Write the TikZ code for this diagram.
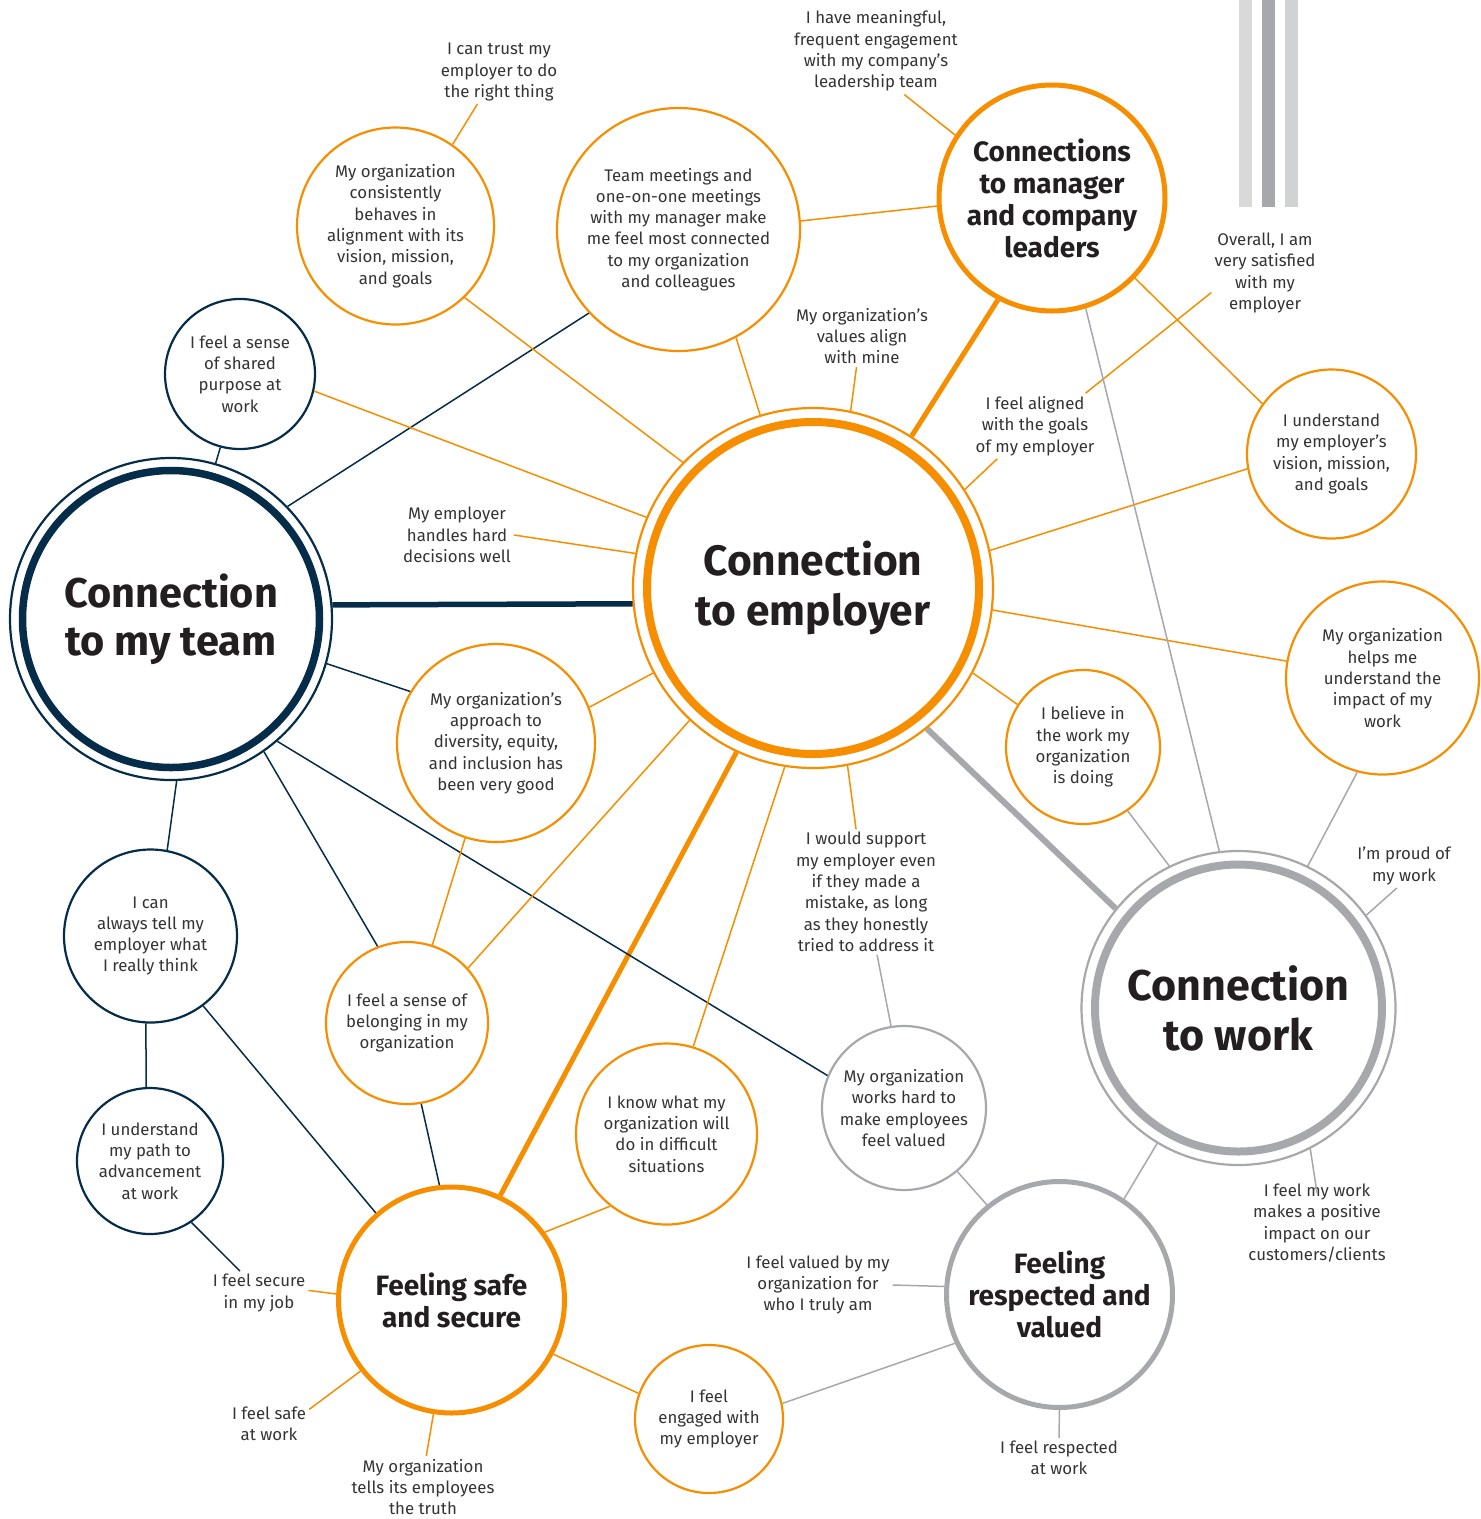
\documentclass[tikz,border=0pt]{standalone}
\usepackage{fontspec}
\setmainfont{Fira Sans}
\definecolor{org}{RGB}{247,142,0}
\definecolor{navy}{RGB}{5,44,73}
\definecolor{gry}{RGB}{167,168,172}
\definecolor{gryl}{RGB}{217,217,218}
\definecolor{gryd}{RGB}{167,168,172}
\definecolor{gryc}{RGB}{209,210,212}
\definecolor{txt}{RGB}{52,52,52}
\definecolor{ttl}{RGB}{35,31,32}
\begin{document}
\begin{tikzpicture}[x=1pt,y=-1pt,
  txtfont/.style={font=\fontsize{16.8}{21.3}\selectfont, text=txt, align=center},
  bub/.style={circle, line width=2.2pt, txtfont, inner sep=0pt, minimum size=#1},
  ob/.style={bub=#1, draw=org},
  nb/.style={bub=#1, draw=navy},
  gb/.style={bub=#1, draw=gry},
  lab/.style={txtfont, inner sep=3pt},
  hub/.style={circle, inner sep=0pt, line width=5pt, minimum size=226pt, font=\bfseries\fontsize{28}{32}\selectfont, text=ttl, align=center},
  ol/.style={draw=org, line width=1.5pt},
  nl/.style={draw=navy, line width=1.5pt},
  gl/.style={draw=gry, line width=1.5pt},
]
\useasboundingbox (0,0) rectangle (1481,1519);
\fill[white] (0,0) rectangle (1481,1519);

% stripes
\fill[gryl] (1239,0) rectangle (1252,207);
\fill[gryd] (1262,0) rectangle (1275,207);
\fill[gryc] (1285,0) rectangle (1298,207);

% main hubs
\node[circle, draw=org, line width=2.2pt, minimum size=360pt, inner sep=0pt,
  font=\bfseries\fontsize{42.5}{50}\selectfont, text=ttl, align=center] (emp) at (813,588) {Connection\\to employer};
\draw[org, line width=8pt] (emp.center) circle[radius=166pt];

\node[circle, draw=navy, line width=2.2pt, minimum size=322pt, inner sep=0pt,
  font=\bfseries\fontsize{41.5}{48}\selectfont, text=ttl, align=center] (team) at (171,619) {Connection\\to my team};
\draw[navy, line width=7.5pt] (team.center) circle[radius=148.5pt];

\node[circle, draw=gry, line width=2.2pt, minimum size=314pt, inner sep=0pt,
  font=\bfseries\fontsize{43}{50}\selectfont, text=ttl, align=center] (work) at (1238.5,1008) {Connection\\to work};
\draw[gry, line width=8pt] (work.center) circle[radius=143.5pt];

\node[hub, draw=org] (mgr) at (1052,198) {Connections\\to manager\\and company\\leaders};
\node[hub, draw=org] (safe) at (451.5,1300) {Feeling safe\\and secure};
\node[hub, draw=gry] (resp) at (1059.5,1294.5) {Feeling\\respected and\\valued};

% bubbles
\node[ob=197pt] (cons) at (395.5,226) {My organization\\consistently\\behaves in\\alignment with its\\vision, mission,\\and goals};
\node[ob=243pt] (tm) at (678.5,229.5) {Team meetings and\\one-on-one meetings\\with my manager make\\me feel most connected\\to my organization\\and colleagues};
\node[ob=169pt] (vis) at (1331.5,454) {I understand\\my employer's\\vision, mission,\\and goals};
\node[nb=150pt] (shared) at (240,374) {I feel a sense\\of shared\\purpose at\\work};
\node[ob=198pt] (div) at (496,743) {My organization’s\\approach to\\diversity, equity,\\and inclusion has\\been very good};
\node[ob=193pt] (helps) at (1382.5,678) {My organization\\helps me\\understand the\\impact of my\\work};
\node[ob=154pt] (bel) at (1083,747) {I believe in\\the work my\\organization\\is doing};
\node[nb=173pt] (tell) at (150.5,936) {I can\\always tell my\\employer what\\I really think};
\node[ob=162pt] (belong) at (407,1023) {I feel a sense of\\belonging in my\\organization};
\node[ob=181pt] (know) at (666.5,1134) {I know what my\\organization will\\do in difficult\\situations};
\node[gb=164pt] (works) at (904,1108) {My organization\\works hard to\\make employees\\feel valued};
\node[nb=146pt] (adv) at (150,1161) {I understand\\my path to\\advancement\\at work};
\node[ob=148pt] (eng) at (709,1419) {I feel\\engaged with\\my employer};

% free labels
\node[lab] (trust) at (499,72) {I can trust my\\employer to do\\the right thing};
\node[lab] (mean) at (876,51) {I have meaningful,\\frequent engagement\\with my company’s\\leadership team};
\node[lab] (values) at (862,336) {My organization's\\values align\\with mine};
\node[lab] (over) at (1265,273) {Overall, I am\\very satisfied\\with my\\employer};
\node[lab] (align) at (1035,426) {I feel aligned\\with the goals\\of my employer};
\node[lab] (hand) at (457,535) {My employer\\handles hard\\decisions well};
\node[lab] (supp) at (866,892) {I would support\\my employer even\\if they made a\\mistake, as long\\as they honestly\\tried to address it};
\node[lab] (proud) at (1404,866) {I'm proud of\\my work};
\node[lab] (impact) at (1317,1223) {I feel my work\\makes a positive\\impact on our\\customers/clients};
\node[lab] (secure) at (259,1293) {I feel secure\\in my job};
\node[lab] (valued) at (818,1285) {I feel valued by my\\organization for\\who I truly am};
\node[lab] (safeat) at (269,1424) {I feel safe\\at work};
\node[lab] (truth) at (423,1487) {My organization\\tells its employees\\the truth};
\node[lab] (respat) at (1059,1458) {I feel respected\\at work};

% thick connectors
\draw[navy, line width=5.5pt] (team.5.4) -- (emp.185);
\draw[org, line width=5pt] (emp.57.4) -- (mgr.242.6);
\draw[org, line width=5pt] (emp.245.1) -- (safe.65.4);
\draw[gry, line width=6pt] (emp.-51.7) -- (work.141);

% navy connectors
\draw[nl] (team.74.4) -- (shared.255.5);
\draw[nl] (team.44.3) -- (tm.223.7);
\draw[nl] (team.-16.1) -- (div.149);
\draw[nl] (team.-55) -- (belong.111.2);
\draw[nl] (team.-49.5) -- (works.157);
\draw[nl] (team.-88) -- (tell.79.9);
\draw[nl] (tell.-93) -- (adv.93.7);
\draw[nl] (tell.-53) -- (safe.131);
\draw[nl] (adv.-56) -- (secure.131);
\draw[nl] (belong.-80.2) -- (safe.96.6);

% orange connectors
\draw[ol] (secure.3) -- (safe.177.5);
\draw[ol] (safe.218.3) -- (safeat.20);
\draw[ol] (safe.261.4) -- (truth.84);
\draw[ol] (safe.36.9) -- (know.232);
\draw[ol] (safe.-28.4) -- (eng.160.9);
\draw[ol] (emp.-99.5) -- (know.73.4);
\draw[ol] (emp.227) -- (belong.42.3);
\draw[ol] (emp.208.7) -- (div.21.5);
\draw[ol] (div.252) -- (belong.72.7);
\draw[ol] (emp.157.7) -- (shared.-13.1);
\draw[ol] (emp.169.6) -- (hand.east);
\draw[ol] (emp.136.5) -- (cons.-46.4);
\draw[ol] (emp.107.2) -- (tm.-62.9);
\draw[ol] (emp.78.6) -- (values.260);
\draw[ol] (emp.33.8) -- (align.221.3);
\draw[ol] (align.33.4) -- (over.200.4);
\draw[ol] (emp.12.1) -- (vis.190);
\draw[ol] (emp.-7.9) -- (helps.170);
\draw[ol] (emp.-28.8) -- (bel.147.1);
\draw[ol] (emp.-79.6) -- (supp.99.3);
\draw[ol] (mgr.184.5) -- (tm.4.9);
\draw[ol] (mgr.147) -- (mean.-57);
\draw[ol] (mgr.-44.7) -- (vis.144.7);
\draw[ol] (cons.55.8) -- (trust.-124);

% gray connectors
\draw[gl] (supp.280.4) -- (works.99.5);
\draw[gl] (works.-50.2) -- (resp.129.5);
\draw[gl] (work.239.1) -- (resp.56.9);
\draw[gl] (work.-63.4) -- ([yshift=-12pt]impact.north);
\draw[gl] (work.36.3) -- (proud.252);
\draw[gl] (work.64.6) -- (helps.255.4);
\draw[gl] (work.116.1) -- (bel.-55.9);
\draw[gl] (work.97.1) -- (mgr.-73.3);
\draw[gl] (resp.176.3) -- (valued.east);
\draw[gl] (resp.205.8) -- (eng.12.5);
\draw[gl] (resp.south) -- (respat.north);
\end{tikzpicture}
\end{document}
